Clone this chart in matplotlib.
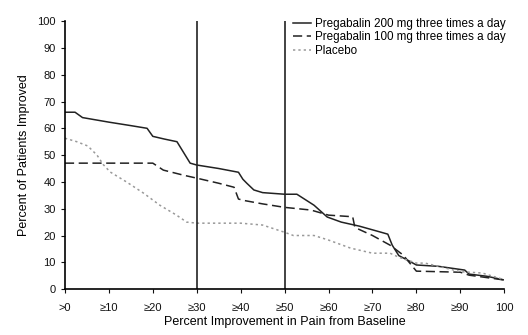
import matplotlib.pyplot as plt

# percent improvement (x) vs percent of patients improved (y)
x_200 = [0, 2.3, 4, 10, 15, 18.7, 20, 22.6, 25.5, 27, 28.5, 30, 35, 39.5, 40.5, 41.4, 43, 45,
         50, 52.8, 56.7, 59.7, 62.9, 67, 72, 73.5, 74.5, 76, 78, 80, 85, 91, 92, 96, 100]
y_200 = [66, 66, 64, 62.3, 61, 60, 57, 56, 55, 51, 47, 46.3, 45, 43.6, 41, 39.5, 37, 36,
         35.4, 35.4, 31.3, 26.9, 25, 23.5, 21.2, 20.5, 16.4, 12.5, 10.8, 9, 8.5, 7.1, 5.6, 4.8, 3.4]

x_100 = [0, 18.7, 20, 22.4, 27, 30, 35, 38.5, 39.5, 41, 45, 50, 56, 60, 65.5, 66, 70, 74,
         77, 80, 90, 92, 100]
y_100 = [47, 47, 47, 44.4, 42.5, 41.4, 39.5, 38, 33.6, 33, 31.8, 30.5, 29.5, 27.6, 27, 23,
         20, 16.4, 12.7, 6.7, 6.3, 5.2, 3.4]

x_pbo = [0, 2.7, 5.2, 7.3, 8.7, 10.3, 14, 17.9, 21.6, 25.4, 27.7, 30, 40, 45, 50, 52,
         56.7, 60, 65, 70, 74, 76, 80, 82, 90, 95, 100]
y_pbo = [56.3, 55, 53.4, 50, 46.5, 43.7, 40, 35.8, 31.3, 27.6, 25, 24.6, 24.6, 23.9, 21.2,
         20, 20, 18.3, 15.3, 13.4, 13.4, 11.9, 9.7, 9.7, 6.5, 6, 3.5]

x_ticks = [0, 10, 20, 30, 40, 50, 60, 70, 80, 90, 100]
x_labels = ['>0', '≥10', '≥20', '≥30', '≥40', '≥50', '≥60', '≥70', '≥80', '≥90', '100']
cut_lines = [30, 50]

plt.rcParams['font.family'] = ['Liberation Sans', 'DejaVu Sans']

fig = plt.figure(figsize=(5.28, 3.35), dpi=100)
ax = fig.add_axes([0.123, 0.137, 0.832, 0.8])

ax.plot(x_200, y_200, color='#222222', linewidth=1.1, label='Pregabalin 200 mg three times a day')
ax.plot(x_100, y_100, color='#222222', linewidth=1.1, linestyle=(0, (6, 3)),
        label='Pregabalin 100 mg three times a day')
ax.plot(x_pbo, y_pbo, color='#999999', linewidth=1.1, linestyle=(0, (1.5, 2)), label='Placebo')

for c in cut_lines:
    ax.axvline(c, color='#222222', linewidth=1.2)

ax.set_xlim(0, 100)
ax.set_ylim(0, 100)
ax.set_xticks(x_ticks)
ax.set_xticklabels(x_labels)
ax.set_yticks(range(0, 101, 10))
ax.tick_params(labelsize=8, length=3, width=0.8, colors='#111111')
ax.tick_params(axis='x', pad=7)

ax.spines['top'].set_visible(False)
ax.spines['right'].set_visible(False)
ax.spines['left'].set_linewidth(1.2)
ax.spines['bottom'].set_linewidth(1.2)

ax.set_xlabel('Percent Improvement in Pain from Baseline', fontsize=9, labelpad=2)
ax.set_ylabel('Percent of Patients Improved', fontsize=9, labelpad=5)

ax.legend(loc='upper left', bbox_to_anchor=(0.52, 1.012), frameon=False, fontsize=8.4,
          handlelength=1.5, handletextpad=0.35, labelspacing=0.12, borderpad=0,
          borderaxespad=0)

fig.savefig('out.png', dpi=100)
